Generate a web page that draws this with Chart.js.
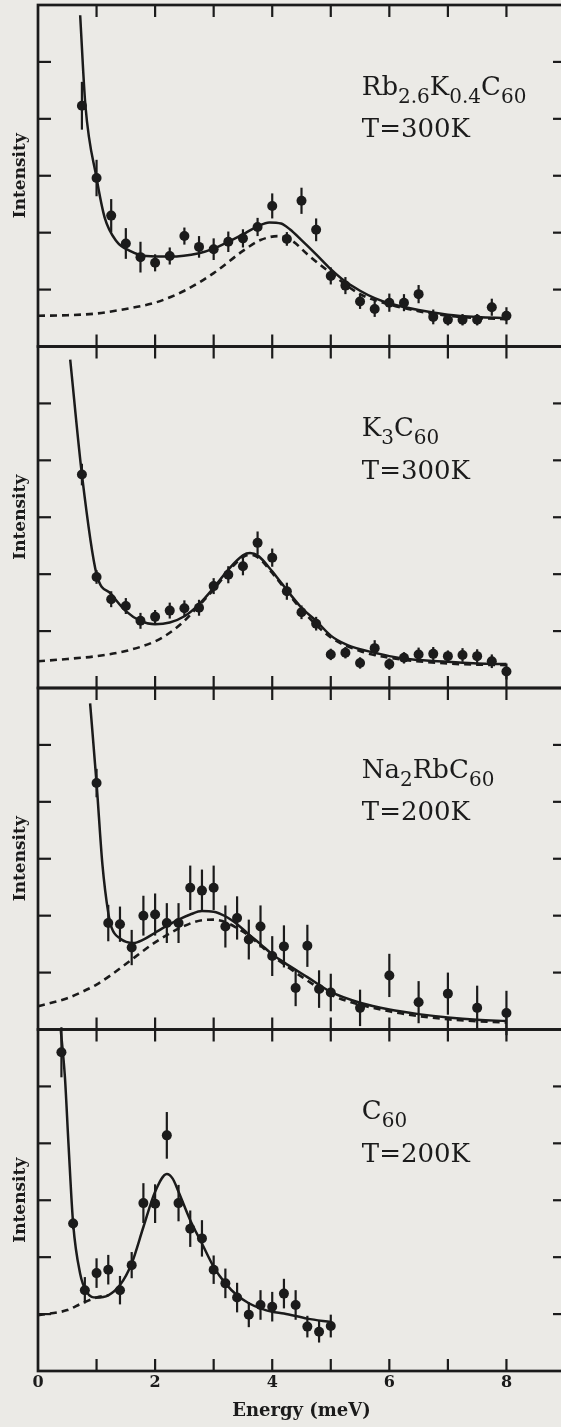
<!DOCTYPE html>
<html><head><meta charset="utf-8">
<script src="https://cdn.jsdelivr.net/npm/chart.js@4/dist/chart.umd.min.js"></script>
<style>
html,body{margin:0;padding:0;background:#ebeae6;overflow:hidden;width:561px;height:1427px;}
canvas{display:block;}
</style></head><body>
<canvas id="c" width="570" height="1427"></canvas>
<script>
// ---------- data ----------
const xTickLabels = [0, 2, 4, 6, 8];

// Rb2.6K0.4C60, T=300K
const rbX   = [0.75,1.0,1.25,1.5,1.75,2.0,2.25,2.5,2.75,3.0,3.25,3.5,3.75,4.0,4.25,4.5,4.75,5.0,5.25,5.5,5.75,6.0,6.25,6.5,6.75,7.0,7.25,7.5,7.75,8.0];
const rbY   = [4.23,2.96,2.30,1.81,1.57,1.47,1.59,1.94,1.75,1.71,1.84,1.90,2.10,2.47,1.89,2.56,2.05,1.24,1.07,0.79,0.66,0.77,0.77,0.92,0.52,0.47,0.47,0.47,0.69,0.54];
const rbErr = [0.42,0.32,0.29,0.27,0.27,0.15,0.15,0.15,0.19,0.19,0.18,0.16,0.16,0.22,0.12,0.23,0.20,0.15,0.15,0.13,0.14,0.16,0.15,0.16,0.13,0.10,0.10,0.10,0.15,0.15];
const rbFitX = [0.72,0.81,1.0,1.14,1.34,1.57,1.85,2.25,2.75,3.0,3.25,3.5,3.75,3.95,4.15,4.3,4.5,4.75,5.0,5.25,5.5,5.75,6.0,6.5,7.0,7.5,8.0];
const rbFitY = [5.82,4.23,2.96,2.26,1.85,1.68,1.59,1.58,1.64,1.72,1.84,1.97,2.11,2.18,2.16,2.06,1.87,1.62,1.36,1.14,0.98,0.85,0.76,0.64,0.56,0.52,0.50];
const rbBgX = [0,0.5,1.0,1.5,2.0,2.5,3.0,3.5,3.8,4.1,4.35,4.6,5.0,5.5,6.0,6.5,7.0,7.5,8.0];
const rbBgY = [0.54,0.55,0.58,0.66,0.77,0.98,1.29,1.68,1.87,1.94,1.85,1.62,1.29,0.92,0.74,0.62,0.54,0.50,0.48];

// K3C60, T=300K
const kX   = [0.75,1.0,1.25,1.5,1.75,2.0,2.25,2.5,2.75,3.0,3.25,3.5,3.75,4.0,4.25,4.5,4.75,5.0,5.25,5.5,5.75,6.0,6.25,6.5,6.75,7.0,7.25,7.5,7.75,8.0];
const kY   = [3.75,1.95,1.56,1.44,1.18,1.25,1.36,1.40,1.41,1.79,1.99,2.14,2.55,2.29,1.70,1.33,1.13,0.59,0.62,0.44,0.70,0.42,0.53,0.59,0.60,0.56,0.58,0.56,0.47,0.29];
const kErr = [0.19,0.12,0.14,0.14,0.14,0.12,0.14,0.14,0.14,0.14,0.15,0.16,0.20,0.16,0.15,0.12,0.12,0.10,0.10,0.10,0.14,0.10,0.10,0.12,0.12,0.10,0.12,0.12,0.12,0.14];
const kFitX = [0.55,0.75,1.0,1.25,1.5,1.75,2.0,2.25,2.5,2.75,3.0,3.25,3.5,3.62,3.75,4.0,4.13,4.5,4.75,5.0,5.25,5.5,5.75,6.0,6.4,7.0,7.5,8.0];
const kFitY = [5.77,3.75,2.0,1.65,1.35,1.18,1.12,1.15,1.26,1.47,1.76,2.08,2.33,2.37,2.33,2.05,1.88,1.41,1.18,0.92,0.77,0.68,0.62,0.56,0.50,0.46,0.43,0.42];
const kBgX = [0,0.5,1.0,1.5,2.0,2.25,2.5,2.75,3.0,3.25,3.5,3.62,3.75,4.0,4.5,5.0,5.5,6.0,7.0,8.0];
const kBgY = [0.47,0.51,0.56,0.65,0.82,0.97,1.18,1.45,1.73,2.05,2.30,2.34,2.30,2.02,1.38,0.89,0.65,0.53,0.43,0.40];

// Na2RbC60, T=200K
const naX   = [1.0,1.2,1.4,1.6,1.8,2.0,2.2,2.4,2.6,2.8,3.0,3.2,3.4,3.6,3.8,4.0,4.2,4.4,4.6,4.8,5.0,5.5,6.0,6.5,7.0,7.5,8.0];
const naY   = [4.33,1.87,1.85,1.44,2.00,2.02,1.87,1.87,2.49,2.44,2.49,1.81,1.96,1.58,1.81,1.29,1.46,0.73,1.47,0.71,0.65,0.38,0.95,0.48,0.63,0.38,0.29];
const naErr = [0.25,0.32,0.31,0.31,0.35,0.37,0.35,0.35,0.39,0.37,0.39,0.37,0.38,0.35,0.37,0.35,0.37,0.32,0.37,0.33,0.33,0.32,0.38,0.37,0.37,0.39,0.39];
const naFitX = [0.89,1.0,1.1,1.2,1.26,1.4,1.63,1.8,2.0,2.2,2.4,2.6,2.8,3.0,3.2,3.4,3.6,3.8,4.0,4.2,4.6,5.0,5.5,6.0,6.5,7.0,7.5,8.0];
const naFitY = [5.73,4.33,2.9,2.05,1.78,1.6,1.52,1.58,1.7,1.82,1.93,2.02,2.08,2.07,1.99,1.85,1.67,1.5,1.32,1.18,0.92,0.66,0.47,0.35,0.27,0.21,0.17,0.15];
const naBgX = [0,0.5,0.75,1.0,1.25,1.5,2.0,2.5,2.8,3.0,3.5,4.0,4.5,5.0,6.0,7.0,8.0];
const naBgY = [0.41,0.55,0.66,0.79,0.96,1.15,1.53,1.82,1.92,1.93,1.72,1.30,0.93,0.61,0.32,0.18,0.12];

// C60, T=200K
const c60X   = [0.4,0.6,0.8,1.0,1.2,1.4,1.6,1.8,2.0,2.2,2.4,2.6,2.8,3.0,3.2,3.4,3.6,3.8,4.0,4.2,4.4,4.6,4.8,5.0];
const c60Y   = [5.60,2.59,1.42,1.72,1.78,1.42,1.86,2.95,2.94,4.14,2.95,2.50,2.33,1.78,1.54,1.29,0.99,1.16,1.13,1.36,1.16,0.78,0.69,0.79];
const c60Err = [0.44,0.10,0.23,0.26,0.26,0.25,0.23,0.35,0.34,0.41,0.32,0.32,0.32,0.25,0.26,0.26,0.22,0.26,0.26,0.26,0.26,0.19,0.19,0.20];
const c60FitX = [0.39,0.46,0.52,0.6,0.72,0.83,1.0,1.2,1.4,1.6,1.8,2.0,2.2,2.3,2.4,2.6,2.8,3.0,3.2,3.4,3.6,3.8,4.0,4.2,4.6,5.0];
const c60FitY = [5.98,5.16,4.0,2.59,1.71,1.39,1.29,1.33,1.51,1.89,2.53,3.15,3.46,3.38,3.15,2.65,2.24,1.83,1.54,1.33,1.19,1.10,1.04,1.01,0.92,0.86];
const c60BgX = [0,0.5,0.75,1.0,1.2];
const c60BgY = [0.98,1.07,1.19,1.29,1.33];

const sampleNames = [
  [['Rb',0],['2.6',1],['K',0],['0.4',1],['C',0],['60',1]],
  [['K',0],['3',1],['C',0],['60',1]],
  [['Na',0],['2',1],['RbC',0],['60',1]],
  [['C',0],['60',1]]
];
const temperatures = ['T=300K','T=300K','T=200K','T=200K'];

// ---------- styling / building ----------
const INK = '#1b1b1b';
const SERIF = "'DejaVu Serif', 'Liberation Serif', serif";
const axisIds = ['yRb','yK','yNa','yC60'];   // top -> bottom

const zip = (xs, ys) => xs.map((x, i) => ({x, y: ys[i]}));

function pointsDs(xs, ys, err, axis) {
  return { data: zip(xs, ys), yAxisID: axis, errorBars: err, showLine: false,
    pointRadius: 5, pointHoverRadius: 5, pointBackgroundColor: INK, pointBorderWidth: 0, order: 0 };
}
function fitDs(xs, ys, axis) {
  return { data: zip(xs, ys), yAxisID: axis, showLine: true, pointRadius: 0, borderColor: INK,
    borderWidth: 2.5, cubicInterpolationMode: 'monotone', order: 1 };
}
function bgDs(xs, ys, axis) {
  return { data: zip(xs, ys), yAxisID: axis, showLine: true, pointRadius: 0, borderColor: INK,
    borderWidth: 2.6, borderDash: [7, 5], cubicInterpolationMode: 'monotone', order: 2 };
}

const datasets = [
  pointsDs(rbX, rbY, rbErr, 'yRb'), fitDs(rbFitX, rbFitY, 'yRb'), bgDs(rbBgX, rbBgY, 'yRb'),
  pointsDs(kX, kY, kErr, 'yK'), fitDs(kFitX, kFitY, 'yK'), bgDs(kBgX, kBgY, 'yK'),
  pointsDs(naX, naY, naErr, 'yNa'), fitDs(naFitX, naFitY, 'yNa'), bgDs(naBgX, naBgY, 'yNa'),
  pointsDs(c60X, c60Y, c60Err, 'yC60'), fitDs(c60FitX, c60FitY, 'yC60'), bgDs(c60BgX, c60BgY, 'yC60')
];

function yAxis(weight) {
  return {
    type: 'linear', position: 'left', stack: 'panels', stackWeight: 1, weight,
    min: 0, max: 6,
    ticks: { display: false, stepSize: 1 },
    grid: { display: false, drawTicks: false },
    border: { display: false },
    title: { display: true, text: 'Intensity', color: INK,
      font: { family: SERIF, size: 17, weight: 'bold' }, padding: { top: 10, bottom: 0 } },
    afterFit: s => { s.width = 38; }
  };
}

const panelPlugin = {
  id: 'panelPlugin',
  beforeDatasetsDraw(chart) {
    const ctx = chart.ctx, xs = chart.scales.x;
    ctx.save();
    ctx.strokeStyle = INK; ctx.lineWidth = 2.2;
    chart.data.datasets.forEach(ds => {
      if (!ds.errorBars) return;
      const ys = chart.scales[ds.yAxisID];
      ds.data.forEach((p, i) => {
        const e = ds.errorBars[i];
        const px = xs.getPixelForValue(p.x);
        ctx.beginPath();
        ctx.moveTo(px, ys.getPixelForValue(p.y - e));
        ctx.lineTo(px, ys.getPixelForValue(p.y + e));
        ctx.stroke();
      });
    });
    ctx.restore();
  },
  afterDatasetsDraw(chart) {
    const ctx = chart.ctx, xs = chart.scales.x, ca = chart.chartArea;
    const l = ca.left, r = ca.right;
    ctx.save();
    ctx.strokeStyle = INK; ctx.fillStyle = INK;
    const seg = (x1, y1, x2, y2) => { ctx.beginPath(); ctx.moveTo(x1, y1); ctx.lineTo(x2, y2); ctx.stroke(); };
    axisIds.forEach((id, k) => {
      const ys = chart.scales[id];
      const t = ys.top, b = ys.bottom;
      ctx.lineWidth = 2.7;
      ctx.strokeRect(l, t, r - l, b - t);
      ctx.lineWidth = 2.2;
      ys.ticks.forEach(tk => {
        if (tk.value <= ys.min || tk.value >= ys.max) return;
        const py = ys.getPixelForValue(tk.value);
        seg(l, py, l + 13, py);
        seg(r - 12, py, r, py);
      });
      xs.ticks.forEach(tk => {
        if (tk.value <= xs.min || tk.value >= xs.max) return;
        const px = xs.getPixelForValue(tk.value);
        seg(px, t, px, t + 12);
        seg(px, b - 12, px, b);
      });
      // sample label
      let x = xs.getPixelForValue(5.53);
      const yb = ys.getPixelForValue(4.42);
      ctx.textBaseline = 'alphabetic'; ctx.textAlign = 'left';
      sampleNames[k].forEach(([txt, sub]) => {
        ctx.font = (sub ? '20px ' : '26px ') + SERIF;
        ctx.fillText(txt, x, sub ? yb + 8 : yb);
        x += ctx.measureText(txt).width;
      });
      ctx.font = '26px ' + SERIF;
      ctx.fillText(temperatures[k], xs.getPixelForValue(5.53), ys.getPixelForValue(3.68));
    });
    ctx.restore();
  }
};

new Chart(document.getElementById('c'), {
  type: 'scatter',
  data: { datasets },
  plugins: [panelPlugin],
  options: {
    responsive: false, animation: false, devicePixelRatio: 1, events: [],
    layout: { padding: { top: 3, right: 5, bottom: 0, left: 0 } },
    plugins: { legend: { display: false }, tooltip: { enabled: false } },
    scales: {
      x: {
        type: 'linear', position: 'bottom', min: 0, max: 9,
        ticks: { stepSize: 1, autoSkip: false, maxRotation: 0, padding: 2, color: INK,
          font: { family: SERIF, size: 16, weight: 'bold' },
          callback: v => xTickLabels.includes(v) ? String(v) : '' },
        grid: { display: false, drawTicks: false },
        border: { display: false },
        title: { display: true, text: 'Energy (meV)', color: INK,
          font: { family: SERIF, size: 18, weight: 'bold' }, padding: { top: 0, bottom: 5 } },
        afterFit: s => { s.height = 56; }
      },
      yC60: yAxis(1),
      yNa: yAxis(2),
      yK: yAxis(3),
      yRb: yAxis(4)
    }
  }
});
</script>
</body></html>
